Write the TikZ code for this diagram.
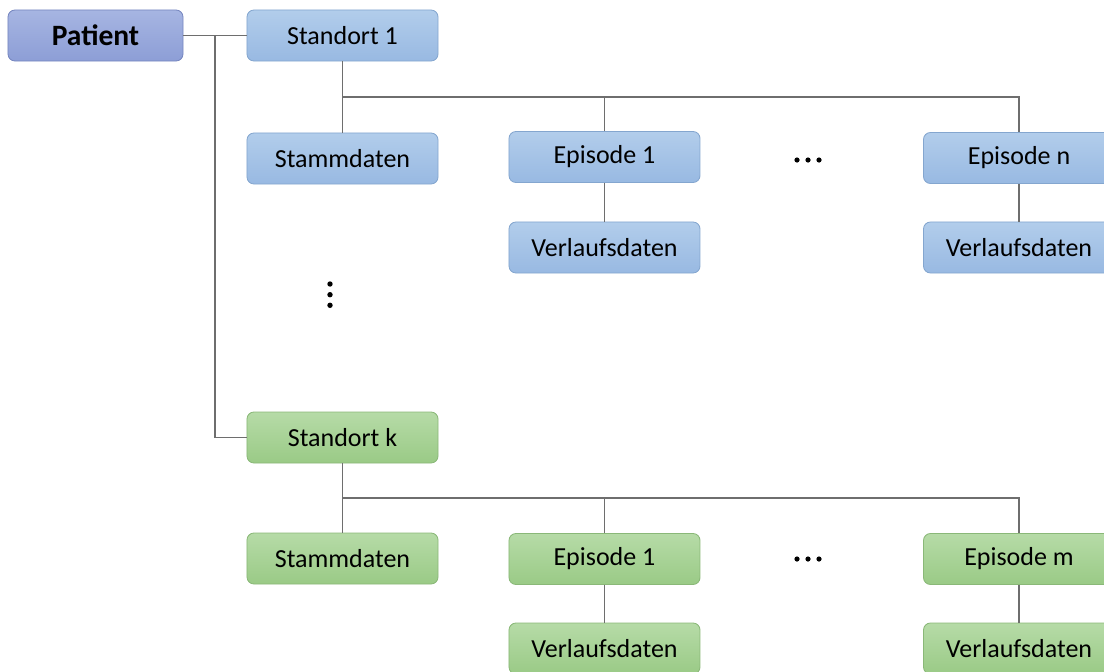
\documentclass[tikz,border=0pt]{standalone}
\usepackage{fontspec}
\setmainfont{Carlito}
\usepackage{xcolor}
\usetikzlibrary{positioning}

\definecolor{patTop}{HTML}{A6B5E2}
\definecolor{patBot}{HTML}{8D9ED6}
\definecolor{patLine}{HTML}{7686BF}
\definecolor{bluTop}{HTML}{B2CDEB}
\definecolor{bluBot}{HTML}{98B9E2}
\definecolor{bluLine}{HTML}{84A6CF}
\definecolor{grnTop}{HTML}{B6DBA7}
\definecolor{grnBot}{HTML}{9ACA86}
\definecolor{grnLine}{HTML}{8AB878}
\definecolor{conLine}{HTML}{6E6E6E}

\begin{document}
\begin{tikzpicture}[
    x=0.025cm, y=-0.025cm,
    box/.style={rectangle, draw, rounded corners=5pt, minimum height=1.275cm, minimum width=4.775cm, inner sep=0pt, align=center, font=\fontsize{18.5}{22}\selectfont, line width=0.6pt},
    patbox/.style={box, minimum width=4.375cm, top color=patTop, bottom color=patBot, draw=patLine, font=\fontsize{21}{25}\selectfont\bfseries},
    blubox/.style={box, top color=bluTop, bottom color=bluBot, draw=bluLine},
    grnbox/.style={box, top color=grnTop, bottom color=grnBot, draw=grnLine},
    con/.style={draw=conLine, line width=0.8pt}
]
\useasboundingbox (0,0) rectangle (1104,671);
\clip (0,0) rectangle (1104,671);

% patient and sites
\node[patbox] (pat) at (95.5, 35.5) {Patient};
\node[blubox] (s1) at (342.5, 35.5) {Standort 1};
\node[grnbox] (sk) at (342.5, 437.5) {Standort k};

% site 1
\node[blubox] (st1) at (342.5, 158.5) {Stammdaten};
\node[blubox] (e11) at (604.5, 157) {Episode 1};
\node[blubox] (v11) at (604.5, 247.5) {Verlaufsdaten};
\node[blubox] (e1n) at (1019, 158) {Episode n};
\node[blubox] (v1n) at (1019, 247.5) {Verlaufsdaten};

% site k
\node[grnbox] (stk) at (342.5, 558.5) {Stammdaten};
\node[grnbox] (ek1) at (604.5, 559) {Episode 1};
\node[grnbox] (vk1) at (604.5, 648.5) {Verlaufsdaten};
\node[grnbox] (ekm) at (1019, 559) {Episode m};
\node[grnbox] (vkm) at (1019, 648.5) {Verlaufsdaten};

% junctions
\coordinate (pj) at (215, 35.5);
\coordinate (bus1) at (342.5, 97);
\coordinate (busk) at (342.5, 498);

\draw[con] (pat.east) -- (s1.west);
\draw[con] (pj) |- (sk.west);

\draw[con] (s1.south) -- (st1.north);
\draw[con] (bus1) -| (e11.north);
\draw[con] (bus1) -| (e1n.north);
\draw[con] (e11.south) -- (v11.north);
\draw[con] (e1n.south) -- (v1n.north);

\draw[con] (sk.south) -- (stk.north);
\draw[con] (busk) -| (ek1.north);
\draw[con] (busk) -| (ekm.north);
\draw[con] (ek1.south) -- (vk1.north);
\draw[con] (ekm.south) -- (vkm.north);

% ellipses
\foreach \dx in {797, 808, 819} {
    \fill (\dx, 160) circle (2.6);
    \fill (\dx, 559) circle (2.6);
}
\foreach \dy in {284, 294.7, 305.3}
    \fill (330, \dy) circle (2.7);

\end{tikzpicture}
\end{document}
